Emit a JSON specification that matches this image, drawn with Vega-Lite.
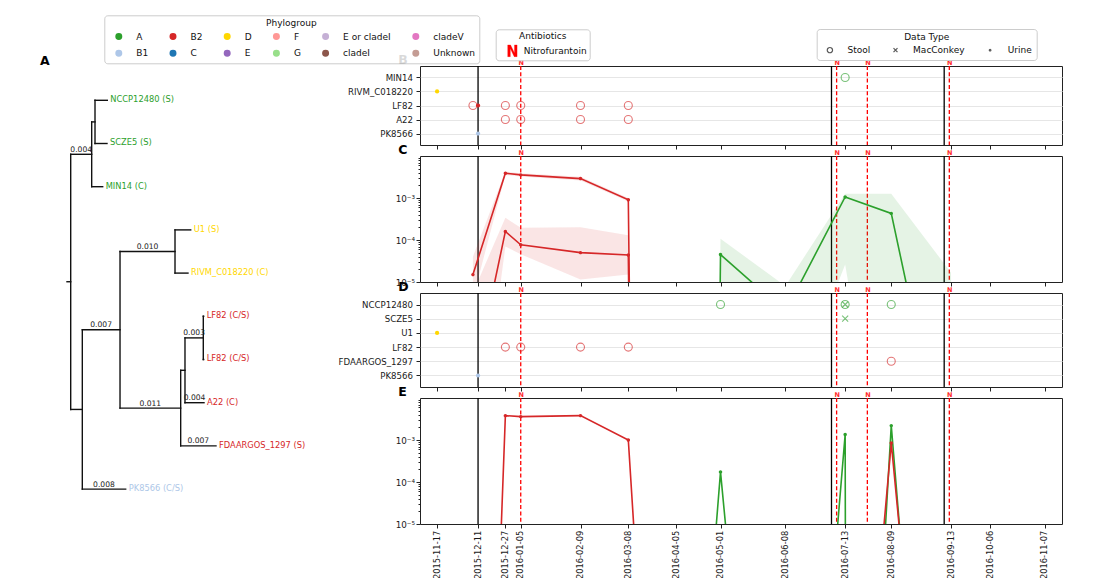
{
  "$schema": "https://vega.github.io/schema/vega-lite/v6.json",
  "padding": {"left": 40, "top": 14, "right": 4, "bottom": 0},
  "background": "white",
  "config": {
    "font": "DejaVu Sans",
    "view": {"stroke": "#222", "strokeWidth": 1},
    "axis": {"labelFont": "DejaVu Sans", "labelFontSize": 8.6, "labelColor": "#1a1a1a", "tickColor": "#222", "tickSize": 4, "labelPadding": 2.5, "domain": false, "grid": false},
    "legend": {"labelFont": "DejaVu Sans", "titleFont": "DejaVu Sans", "labelFontSize": 9, "titleFontSize": 9, "titleFontWeight": "normal", "titleAnchor": "middle", "titleColor": "#111", "labelColor": "#111", "strokeColor": "#cccccc", "fillColor": "rgba(255,255,255,0.85)", "cornerRadius": 3},
    "title": {"font": "DejaVu Sans", "fontSize": 12.5, "fontWeight": "bold", "anchor": "start", "frame": "group", "color": "#000"}
  },
  "datasets": {
    "black": [{"date": "2015-12-11"}, {"date": "2016-07-05"}, {"date": "2016-09-09"}],
    "nitro": [
      {"date": "2016-01-05", "drug": "Nitrofurantoin"},
      {"date": "2016-07-08", "drug": "Nitrofurantoin"},
      {"date": "2016-07-26", "drug": "Nitrofurantoin"},
      {"date": "2016-09-12", "drug": "Nitrofurantoin"}
    ],
    "samples": [
      {"panel": "B", "strain": "RIVM_C018220", "date": "2015-11-17", "type": "Urine", "group": "D"},
      {"panel": "B", "strain": "LF82", "date": "2015-12-08", "type": "Stool", "group": "B2"},
      {"panel": "B", "strain": "LF82", "date": "2015-12-11", "type": "Urine", "group": "B2"},
      {"panel": "B", "strain": "LF82", "date": "2015-12-27", "type": "Stool", "group": "B2"},
      {"panel": "B", "strain": "LF82", "date": "2016-01-05", "type": "Stool", "group": "B2"},
      {"panel": "B", "strain": "LF82", "date": "2016-02-09", "type": "Stool", "group": "B2"},
      {"panel": "B", "strain": "LF82", "date": "2016-03-08", "type": "Stool", "group": "B2"},
      {"panel": "B", "strain": "A22", "date": "2015-12-27", "type": "Stool", "group": "B2"},
      {"panel": "B", "strain": "A22", "date": "2016-01-05", "type": "Stool", "group": "B2"},
      {"panel": "B", "strain": "A22", "date": "2016-02-09", "type": "Stool", "group": "B2"},
      {"panel": "B", "strain": "A22", "date": "2016-03-08", "type": "Stool", "group": "B2"},
      {"panel": "B", "strain": "PK8566", "date": "2015-12-11", "type": "Urine", "group": "B1"},
      {"panel": "B", "strain": "MIN14", "date": "2016-07-13", "type": "Stool", "group": "A"},
      {"panel": "D", "strain": "NCCP12480", "date": "2016-05-01", "type": "Stool", "group": "A"},
      {"panel": "D", "strain": "NCCP12480", "date": "2016-07-13", "type": "Stool", "group": "A"},
      {"panel": "D", "strain": "NCCP12480", "date": "2016-07-13", "type": "MacConkey", "group": "A"},
      {"panel": "D", "strain": "NCCP12480", "date": "2016-08-09", "type": "Stool", "group": "A"},
      {"panel": "D", "strain": "SCZE5", "date": "2016-07-13", "type": "MacConkey", "group": "A"},
      {"panel": "D", "strain": "U1", "date": "2015-11-17", "type": "Urine", "group": "D"},
      {"panel": "D", "strain": "LF82", "date": "2015-12-27", "type": "Stool", "group": "B2"},
      {"panel": "D", "strain": "LF82", "date": "2016-01-05", "type": "Stool", "group": "B2"},
      {"panel": "D", "strain": "LF82", "date": "2016-02-09", "type": "Stool", "group": "B2"},
      {"panel": "D", "strain": "LF82", "date": "2016-03-08", "type": "Stool", "group": "B2"},
      {"panel": "D", "strain": "FDAARGOS_1297", "date": "2016-08-09", "type": "Stool", "group": "B2"},
      {"panel": "D", "strain": "PK8566", "date": "2015-12-11", "type": "Urine", "group": "B1"}
    ],
    "abund": [
      {"panel": "C", "series": "c1", "group": "B2", "date": "2015-12-08", "value": 1.5e-5, "lo": 4e-6, "hi": 4e-5},
      {"panel": "C", "series": "c1", "group": "B2", "date": "2015-12-27", "value": 3.9e-3, "lo": 3.55e-3, "hi": 4.25e-3},
      {"panel": "C", "series": "c1", "group": "B2", "date": "2016-01-05", "value": 3.55e-3, "lo": 3.25e-3, "hi": 3.9e-3},
      {"panel": "C", "series": "c1", "group": "B2", "date": "2016-02-09", "value": 2.9e-3, "lo": 2.6e-3, "hi": 3.2e-3},
      {"panel": "C", "series": "c1", "group": "B2", "date": "2016-03-08", "value": 9.1e-4, "lo": 8.3e-4, "hi": 1.0e-3},
      {"panel": "C", "series": "c1", "group": "B2", "date": "2016-04-05", "value": 1e-100, "lo": 1e-100, "hi": 1e-100},
      {"panel": "C", "series": "c2", "group": "B2", "date": "2015-12-08", "value": 3.5e-8, "lo": 1e-10, "hi": 5.5e-6},
      {"panel": "C", "series": "c2", "group": "B2", "date": "2015-12-27", "value": 1.6e-4, "lo": 7e-5, "hi": 3.4e-4},
      {"panel": "C", "series": "c2", "group": "B2", "date": "2016-01-05", "value": 7.7e-5, "lo": 4.6e-5, "hi": 1.95e-4},
      {"panel": "C", "series": "c2", "group": "B2", "date": "2016-02-09", "value": 5e-5, "lo": 1.15e-5, "hi": 2e-4},
      {"panel": "C", "series": "c2", "group": "B2", "date": "2016-03-08", "value": 4.4e-5, "lo": 1.5e-5, "hi": 1.3e-4},
      {"panel": "C", "series": "c2", "group": "B2", "date": "2016-04-05", "value": 1e-100, "lo": 1e-100, "hi": 1e-100},
      {"panel": "C", "series": "c3", "group": "A", "date": "2016-04-05", "value": 1e-100, "lo": 1e-100, "hi": 1e-100},
      {"panel": "C", "series": "c3", "group": "A", "date": "2016-05-01", "value": 4.5e-5, "lo": 1e-8, "hi": 1.07e-4},
      {"panel": "C", "series": "c3", "group": "A", "date": "2016-06-08", "value": 1.95e-6, "lo": 6e-9, "hi": 8e-6},
      {"panel": "C", "series": "c3", "group": "A", "date": "2016-07-13", "value": 1.06e-3, "lo": 2.6e-5, "hi": 1.27e-3},
      {"panel": "C", "series": "c3", "group": "A", "date": "2016-08-09", "value": 4.3e-4, "lo": 1e-11, "hi": 1.27e-3},
      {"panel": "C", "series": "c3", "group": "A", "date": "2016-09-13", "value": 1e-10, "lo": 1e-12, "hi": 1.66e-5},
      {"panel": "C", "series": "c3", "group": "A", "date": "2016-10-06", "value": 1e-100, "lo": 1e-100, "hi": 1e-100},
      {"panel": "E", "series": "e3", "group": "A", "date": "2016-04-05", "value": 1e-17},
      {"panel": "E", "series": "e3", "group": "A", "date": "2016-05-01", "value": 1.74e-4},
      {"panel": "E", "series": "e3", "group": "A", "date": "2016-06-08", "value": 1e-20},
      {"panel": "E", "series": "e3", "group": "A", "date": "2016-07-13", "value": 1.35e-3},
      {"panel": "E", "series": "e3", "group": "A", "date": "2016-07-14", "value": 1e-21},
      {"panel": "E", "series": "e3", "group": "A", "date": "2016-08-09", "value": 2.2e-3},
      {"panel": "E", "series": "e3", "group": "A", "date": "2016-09-13", "value": 1e-20},
      {"panel": "E", "series": "e1", "group": "B2", "date": "2015-12-11", "value": 1e-20},
      {"panel": "E", "series": "e1", "group": "B2", "date": "2015-12-27", "value": 3.8e-3},
      {"panel": "E", "series": "e1", "group": "B2", "date": "2016-01-05", "value": 3.6e-3},
      {"panel": "E", "series": "e1", "group": "B2", "date": "2016-02-09", "value": 3.8e-3},
      {"panel": "E", "series": "e1", "group": "B2", "date": "2016-03-08", "value": 1e-3},
      {"panel": "E", "series": "e1", "group": "B2", "date": "2016-04-05", "value": 1e-21},
      {"panel": "E", "series": "e2", "group": "B2", "date": "2016-07-14", "value": 1e-15},
      {"panel": "E", "series": "e2", "group": "B2", "date": "2016-08-09", "value": 8.5e-4},
      {"panel": "E", "series": "e2", "group": "B2", "date": "2016-09-13", "value": 1e-18}
    ],
    "tree_edges": [
      {"x": -0.00068, "x2": 0, "y": 4.2, "y2": 4.2},
      {"x": 0, "x2": 0, "y": 1.25, "y2": 7.156},
      {"x": 0, "x2": 0.00385, "y": 1.25, "y2": 1.25},
      {"x": 0.00385, "x2": 0.00385, "y": 0.5, "y2": 2},
      {"x": 0.00385, "x2": 0.00446, "y": 0.5, "y2": 0.5},
      {"x": 0.00446, "x2": 0.00446, "y": 0, "y2": 1},
      {"x": 0.00446, "x2": 0.00672, "y": 0, "y2": 0},
      {"x": 0.00446, "x2": 0.00666, "y": 1, "y2": 1},
      {"x": 0.00385, "x2": 0.00587, "y": 2, "y2": 2},
      {"x": 0, "x2": 0.00213, "y": 7.156, "y2": 7.156},
      {"x": 0.00213, "x2": 0.00213, "y": 5.3125, "y2": 9},
      {"x": 0.00213, "x2": 0.00905, "y": 5.3125, "y2": 5.3125},
      {"x": 0.00213, "x2": 0.01009, "y": 9, "y2": 9},
      {"x": 0.00905, "x2": 0.00905, "y": 3.5, "y2": 7.125},
      {"x": 0.00905, "x2": 0.01914, "y": 3.5, "y2": 3.5},
      {"x": 0.01914, "x2": 0.01914, "y": 3, "y2": 4},
      {"x": 0.01914, "x2": 0.02202, "y": 3, "y2": 3},
      {"x": 0.01914, "x2": 0.02152, "y": 4, "y2": 4},
      {"x": 0.00905, "x2": 0.02018, "y": 7.125, "y2": 7.125},
      {"x": 0.02018, "x2": 0.02018, "y": 6.25, "y2": 8},
      {"x": 0.02018, "x2": 0.02097, "y": 6.25, "y2": 6.25},
      {"x": 0.02018, "x2": 0.02666, "y": 8, "y2": 8},
      {"x": 0.02097, "x2": 0.02097, "y": 5.5, "y2": 7},
      {"x": 0.02097, "x2": 0.02433, "y": 5.5, "y2": 5.5},
      {"x": 0.02097, "x2": 0.02446, "y": 7, "y2": 7},
      {"x": 0.02433, "x2": 0.02433, "y": 5, "y2": 6},
      {"x": 0.02433, "x2": 0.0244, "y": 5, "y2": 5},
      {"x": 0.02433, "x2": 0.0244, "y": 6, "y2": 6}
    ],
    "tree_leaves": [
      {"x": 0.00672, "y": 0, "label": "NCCP12480 (S)", "group": "A"},
      {"x": 0.00666, "y": 1, "label": "SCZE5 (S)", "group": "A"},
      {"x": 0.00587, "y": 2, "label": "MIN14 (C)", "group": "A"},
      {"x": 0.02202, "y": 3, "label": "U1 (S)", "group": "D"},
      {"x": 0.02152, "y": 4, "label": "RIVM_C018220 (C)", "group": "D"},
      {"x": 0.0244, "y": 5, "label": "LF82 (C/S)", "group": "B2"},
      {"x": 0.0244, "y": 6, "label": "LF82 (C/S)", "group": "B2"},
      {"x": 0.02446, "y": 7, "label": "A22 (C)", "group": "B2"},
      {"x": 0.02666, "y": 8, "label": "FDAARGOS_1297 (S)", "group": "B2"},
      {"x": 0.01009, "y": 9, "label": "PK8566 (C/S)", "group": "B1"}
    ],
    "tree_blabels": [
      {"x": 0.00193, "y": 1.25, "label": "0.004"},
      {"x": 0.0141, "y": 3.5, "label": "0.010"},
      {"x": 0.00559, "y": 5.3125, "label": "0.007"},
      {"x": 0.0146, "y": 7.125, "label": "0.011"},
      {"x": 0.02265, "y": 5.5, "label": "0.003"},
      {"x": 0.02272, "y": 7, "label": "0.004"},
      {"x": 0.02342, "y": 8, "label": "0.007"},
      {"x": 0.00611, "y": 9, "label": "0.008"}
    ]
  },
  "spacing": 60,
  "bounds": "flush",
  "hconcat": [
    {
      "width": 320,
      "height": 458,
      "view": {"stroke": null},
      "title": {"text": "A", "dx": 0, "dy": 11.5, "offset": 0, "baseline": "alphabetic"},
      "layer": [
        {
          "data": {"name": "tree_edges"},
          "mark": {"type": "rule", "color": "#111", "strokeWidth": 1.4, "strokeCap": "square"},
          "encoding": {
            "x": {"field": "x", "type": "quantitative", "scale": {"domain": [-0.005633, 0.053083], "nice": false, "zero": false}, "axis": null},
            "x2": {"field": "x2"},
            "y": {"field": "y", "type": "quantitative", "scale": {"domain": [-0.794, 9.808], "reverse": true, "nice": false, "zero": false}, "axis": null},
            "y2": {"field": "y2"}
          }
        },
        {
          "data": {"name": "tree_leaves"},
          "transform": [{"filter": "datum.group == 'A'"}],
          "mark": {"type": "text", "align": "left", "baseline": "middle", "dx": 3, "fontSize": 8.3, "color": "#2ca02c"},
          "encoding": {
            "x": {"field": "x", "type": "quantitative", "scale": {"domain": [-0.005633, 0.053083], "nice": false, "zero": false}, "axis": null},
            "y": {"field": "y", "type": "quantitative", "scale": {"domain": [-0.794, 9.808], "reverse": true, "nice": false, "zero": false}, "axis": null},
            "text": {"field": "label"}
          }
        },
        {
          "data": {"name": "tree_leaves"},
          "transform": [{"filter": "datum.group == 'D'"}],
          "mark": {"type": "text", "align": "left", "baseline": "middle", "dx": 3, "fontSize": 8.3, "color": "#ffd700"},
          "encoding": {
            "x": {"field": "x", "type": "quantitative", "scale": {"domain": [-0.005633, 0.053083], "nice": false, "zero": false}, "axis": null},
            "y": {"field": "y", "type": "quantitative", "scale": {"domain": [-0.794, 9.808], "reverse": true, "nice": false, "zero": false}, "axis": null},
            "text": {"field": "label"}
          }
        },
        {
          "data": {"name": "tree_leaves"},
          "transform": [{"filter": "datum.group == 'B2'"}],
          "mark": {"type": "text", "align": "left", "baseline": "middle", "dx": 3, "fontSize": 8.3, "color": "#d62728"},
          "encoding": {
            "x": {"field": "x", "type": "quantitative", "scale": {"domain": [-0.005633, 0.053083], "nice": false, "zero": false}, "axis": null},
            "y": {"field": "y", "type": "quantitative", "scale": {"domain": [-0.794, 9.808], "reverse": true, "nice": false, "zero": false}, "axis": null},
            "text": {"field": "label"}
          }
        },
        {
          "data": {"name": "tree_leaves"},
          "transform": [{"filter": "datum.group == 'B1'"}],
          "mark": {"type": "text", "align": "left", "baseline": "middle", "dx": 3, "fontSize": 8.3, "color": "#aec7e8"},
          "encoding": {
            "x": {"field": "x", "type": "quantitative", "scale": {"domain": [-0.005633, 0.053083], "nice": false, "zero": false}, "axis": null},
            "y": {"field": "y", "type": "quantitative", "scale": {"domain": [-0.794, 9.808], "reverse": true, "nice": false, "zero": false}, "axis": null},
            "text": {"field": "label"}
          }
        },
        {
          "data": {"name": "tree_blabels"},
          "mark": {"type": "text", "align": "center", "baseline": "bottom", "dy": -0.5, "fontSize": 7.6, "color": "#222"},
          "encoding": {
            "x": {"field": "x", "type": "quantitative", "scale": {"domain": [-0.005633, 0.053083], "nice": false, "zero": false}, "axis": null},
            "y": {"field": "y", "type": "quantitative", "scale": {"domain": [-0.794, 9.808], "reverse": true, "nice": false, "zero": false}, "axis": null},
            "text": {"field": "label"}
          }
        }
      ]
    },
    {
      "spacing": 11,
      "bounds": "flush",
      "vconcat": [
        {
          "width": 642,
          "height": 79,
          "title": {"text": "B", "dx": -21.7, "dy": 9.5, "offset": -7.5, "baseline": "alphabetic"},
          "resolve": {"axis": {"x": "independent"}},
          "layer": [
            {
              "data": {"name": "black"},
              "mark": {"type": "rule", "color": "#000", "strokeWidth": 1.3},
              "encoding": {"x": {"field": "date", "type": "temporal", "scale": {"type": "utc", "domain": [{"year": 2015, "month": 11, "date": 7, "utc": true}, {"year": 2016, "month": 11, "date": 17, "utc": true}]}, "axis": null}}
            },
            {
              "data": {"name": "nitro"},
              "mark": {"type": "rule", "strokeWidth": 1.3, "strokeDash": [4, 2.3]},
              "encoding": {
                "x": {"field": "date", "type": "temporal", "scale": {"type": "utc", "domain": [{"year": 2015, "month": 11, "date": 7, "utc": true}, {"year": 2016, "month": 11, "date": 17, "utc": true}]}, "axis": null},
                "color": {"field": "drug", "type": "nominal", "scale": {"domain": ["Nitrofurantoin"], "range": ["#ff0000"]}, "legend": {"title": "Antibiotics", "orient": "none", "legendX": 455.7, "legendY": -36.7, "symbolType": "M-0.72,0.9L-0.72,-0.9L-0.28,-0.9L0.32,0.35L0.32,-0.9L0.72,-0.9L0.72,0.9L0.28,0.9L-0.32,-0.35L-0.32,0.9Z", "symbolSize": 169, "symbolFillColor": "#ff0000", "symbolStrokeWidth": 0.3, "symbolDash": [1, 0], "symbolOffset": 6.7, "labelOffset": 4.4, "padding": 3, "titlePadding": 2.5}}
              }
            },
            {
              "data": {"name": "samples"},
              "transform": [{"filter": "datum.panel == 'B' && datum.type == 'Urine'"}],
              "mark": {"type": "point", "filled": true, "size": 18, "opacity": 1, "strokeWidth": 0},
              "encoding": {
                "x": {"field": "date", "type": "temporal", "scale": {"type": "utc", "domain": [{"year": 2015, "month": 11, "date": 7, "utc": true}, {"year": 2016, "month": 11, "date": 17, "utc": true}]}, "axis": {"orient": "bottom", "title": null, "labels": false, "values": [{"year": 2015, "month": 11, "date": 17, "utc": true}, {"year": 2015, "month": 12, "date": 11, "utc": true}, {"year": 2015, "month": 12, "date": 27, "utc": true}, {"year": 2016, "month": 1, "date": 5, "utc": true}, {"year": 2016, "month": 2, "date": 9, "utc": true}, {"year": 2016, "month": 3, "date": 8, "utc": true}, {"year": 2016, "month": 4, "date": 5, "utc": true}, {"year": 2016, "month": 5, "date": 1, "utc": true}, {"year": 2016, "month": 6, "date": 8, "utc": true}, {"year": 2016, "month": 7, "date": 13, "utc": true}, {"year": 2016, "month": 8, "date": 9, "utc": true}, {"year": 2016, "month": 9, "date": 13, "utc": true}, {"year": 2016, "month": 10, "date": 6, "utc": true}, {"year": 2016, "month": 11, "date": 7, "utc": true}]}},
                "y": {"field": "strain", "type": "nominal", "scale": {"type": "point", "domain": ["MIN14", "RIVM_C018220", "LF82", "A22", "PK8566"], "padding": 0.82}, "axis": {"title": null, "grid": true, "gridColor": "#e6e6e6", "labelPadding": 3.5}},
                "fill": {"field": "group", "type": "nominal", "scale": {"domain": ["A", "B1", "B2", "C", "D", "E", "F", "G", "E or cladeI", "cladeI", "cladeV", "Unknown"], "range": ["#2ca02c", "#aec7e8", "#d62728", "#1f77b4", "#ffd700", "#9467bd", "#ff9896", "#98df8a", "#c5b0d5", "#8c564b", "#e377c2", "#c49c94"]}, "legend": {"title": "Phylogroup", "orient": "none", "legendX": 64.3, "legendY": -50.7, "columns": 6, "symbolType": "circle", "symbolSize": 30, "symbolOffset": 6, "labelOffset": 13, "columnPadding": 14.2, "rowPadding": 4, "padding": 4, "titlePadding": 3.4}}
              }
            },
            {
              "data": {"name": "samples"},
              "transform": [{"filter": "datum.panel == 'B' && datum.type != 'Urine'"}],
              "mark": {"type": "point", "filled": false, "size": 64, "strokeWidth": 1.1, "strokeOpacity": 0.9},
              "encoding": {
                "x": {"field": "date", "type": "temporal", "scale": {"type": "utc", "domain": [{"year": 2015, "month": 11, "date": 7, "utc": true}, {"year": 2016, "month": 11, "date": 17, "utc": true}]}, "axis": {"orient": "top", "title": null, "values": [{"year": 2016, "month": 1, "date": 5, "utc": true}, {"year": 2016, "month": 7, "date": 8, "utc": true}, {"year": 2016, "month": 7, "date": 26, "utc": true}, {"year": 2016, "month": 9, "date": 12, "utc": true}], "labelExpr": "'N'", "ticks": false, "labelColor": "#ff2a2a", "labelFontWeight": "bold", "labelFontSize": 6.5, "labelPadding": 1, "labelOverlap": false, "labelFlush": false, "labelBound": false}},
                "y": {"field": "strain", "type": "nominal", "scale": {"type": "point", "domain": ["MIN14", "RIVM_C018220", "LF82", "A22", "PK8566"], "padding": 0.82}, "axis": {"title": null, "grid": true, "gridColor": "#e6e6e6", "labelPadding": 3.5}},
                "stroke": {"field": "group", "type": "nominal", "scale": {"domain": ["A", "B1", "B2", "C", "D", "E", "F", "G", "E or cladeI", "cladeI", "cladeV", "Unknown"], "range": ["#2ca02c", "#aec7e8", "#d62728", "#1f77b4", "#ffd700", "#9467bd", "#ff9896", "#98df8a", "#c5b0d5", "#8c564b", "#e377c2", "#c49c94"]}, "legend": null},
                "shape": {"field": "type", "type": "nominal", "scale": {"domain": ["Stool", "MacConkey", "Urine"], "range": ["circle", "M-0.75,-0.75L0.75,0.75M-0.75,0.75L0.75,-0.75", "M0.3,0A0.3,0.3,0,1,1,-0.3,0A0.3,0.3,0,1,1,0.3,0Z"]}, "legend": {"title": "Data Type", "orient": "none", "legendX": 776.7, "legendY": -37, "columns": 3, "symbolSize": 28, "symbolStrokeColor": "#111", "symbolStrokeWidth": 1.2, "symbolFillColor": "transparent", "symbolOffset": 4.7, "labelOffset": 13.1, "columnPadding": 15.6, "padding": 4, "titlePadding": 3.4}}
              }
            }
          ]
        },
        {
          "width": 642,
          "height": 126,
          "title": {"text": "C", "dx": -21.7, "dy": 9.5, "offset": -7.5, "baseline": "alphabetic"},
          "resolve": {"axis": {"x": "independent"}},
          "layer": [
            {
              "data": {"name": "black"},
              "mark": {"type": "rule", "color": "#000", "strokeWidth": 1.3},
              "encoding": {"x": {"field": "date", "type": "temporal", "scale": {"type": "utc", "domain": [{"year": 2015, "month": 11, "date": 7, "utc": true}, {"year": 2016, "month": 11, "date": 17, "utc": true}]}, "axis": null}}
            },
            {
              "data": {"name": "nitro"},
              "mark": {"type": "rule", "strokeWidth": 1.3, "strokeDash": [4, 2.3]},
              "encoding": {
                "x": {"field": "date", "type": "temporal", "scale": {"type": "utc", "domain": [{"year": 2015, "month": 11, "date": 7, "utc": true}, {"year": 2016, "month": 11, "date": 17, "utc": true}]}, "axis": null},
                "color": {"field": "drug", "type": "nominal", "scale": {"domain": ["Nitrofurantoin"], "range": ["#ff0000"]}, "legend": {"title": "Antibiotics", "orient": "none", "legendX": 455.7, "legendY": -36.7, "symbolType": "M-0.72,0.9L-0.72,-0.9L-0.28,-0.9L0.32,0.35L0.32,-0.9L0.72,-0.9L0.72,0.9L0.28,0.9L-0.32,-0.35L-0.32,0.9Z", "symbolSize": 169, "symbolFillColor": "#ff0000", "symbolStrokeWidth": 0.3, "symbolDash": [1, 0], "symbolOffset": 6.7, "labelOffset": 4.4, "padding": 3, "titlePadding": 2.5}}
              }
            },
            {
              "data": {"name": "abund"},
              "transform": [{"filter": "datum.panel == 'C' && datum.group == 'B2'"}],
              "mark": {"type": "area", "clip": true, "color": "#d62728", "fillOpacity": 0.12},
              "encoding": {
                "x": {"field": "date", "type": "temporal", "scale": {"type": "utc", "domain": [{"year": 2015, "month": 11, "date": 7, "utc": true}, {"year": 2016, "month": 11, "date": 17, "utc": true}]}, "axis": {"orient": "bottom", "title": null, "labels": false, "values": [{"year": 2015, "month": 11, "date": 17, "utc": true}, {"year": 2015, "month": 12, "date": 11, "utc": true}, {"year": 2015, "month": 12, "date": 27, "utc": true}, {"year": 2016, "month": 1, "date": 5, "utc": true}, {"year": 2016, "month": 2, "date": 9, "utc": true}, {"year": 2016, "month": 3, "date": 8, "utc": true}, {"year": 2016, "month": 4, "date": 5, "utc": true}, {"year": 2016, "month": 5, "date": 1, "utc": true}, {"year": 2016, "month": 6, "date": 8, "utc": true}, {"year": 2016, "month": 7, "date": 13, "utc": true}, {"year": 2016, "month": 8, "date": 9, "utc": true}, {"year": 2016, "month": 9, "date": 13, "utc": true}, {"year": 2016, "month": 10, "date": 6, "utc": true}, {"year": 2016, "month": 11, "date": 7, "utc": true}]}},
                "y": {"field": "lo", "type": "quantitative", "scale": {"type": "log", "domain": [1e-5, 1e-2], "nice": false}, "axis": {"title": null, "values": [1e-5, 2e-5, 3e-5, 4e-5, 5e-5, 6e-5, 7e-5, 8e-5, 9e-5, 1e-4, 2e-4, 3e-4, 4e-4, 5e-4, 6e-4, 7e-4, 8e-4, 9e-4, 1e-3, 2e-3, 3e-3, 4e-3, 5e-3, 6e-3, 7e-3, 8e-3, 9e-3], "labelExpr": "datum.value < 1.1e-5 ? '10⁻⁵' : (datum.value > 0.99e-4 && datum.value < 1.01e-4) ? '10⁻⁴' : (datum.value > 0.99e-3 && datum.value < 1.01e-3) ? '10⁻³' : ''", "tickSize": {"condition": {"test": "datum.value < 1.1e-5 || (datum.value > 0.99e-4 && datum.value < 1.01e-4) || (datum.value > 0.99e-3 && datum.value < 1.01e-3)", "value": 4}, "value": 2}, "labelOverlap": false, "labelPadding": 1.5, "labelFontSize": 8.8}},
                "y2": {"field": "hi"},
                "detail": {"field": "series", "type": "nominal"}
              }
            },
            {
              "data": {"name": "abund"},
              "transform": [{"filter": "datum.panel == 'C' && datum.group == 'A'"}],
              "mark": {"type": "area", "clip": true, "color": "#2ca02c", "fillOpacity": 0.12},
              "encoding": {
                "x": {"field": "date", "type": "temporal", "scale": {"type": "utc", "domain": [{"year": 2015, "month": 11, "date": 7, "utc": true}, {"year": 2016, "month": 11, "date": 17, "utc": true}]}, "axis": null},
                "y": {"field": "lo", "type": "quantitative", "scale": {"type": "log", "domain": [1e-5, 1e-2], "nice": false}, "axis": {"title": null, "values": [1e-5, 2e-5, 3e-5, 4e-5, 5e-5, 6e-5, 7e-5, 8e-5, 9e-5, 1e-4, 2e-4, 3e-4, 4e-4, 5e-4, 6e-4, 7e-4, 8e-4, 9e-4, 1e-3, 2e-3, 3e-3, 4e-3, 5e-3, 6e-3, 7e-3, 8e-3, 9e-3], "labelExpr": "datum.value < 1.1e-5 ? '10⁻⁵' : (datum.value > 0.99e-4 && datum.value < 1.01e-4) ? '10⁻⁴' : (datum.value > 0.99e-3 && datum.value < 1.01e-3) ? '10⁻³' : ''", "tickSize": {"condition": {"test": "datum.value < 1.1e-5 || (datum.value > 0.99e-4 && datum.value < 1.01e-4) || (datum.value > 0.99e-3 && datum.value < 1.01e-3)", "value": 4}, "value": 2}, "labelOverlap": false, "labelPadding": 1.5, "labelFontSize": 8.8}},
                "y2": {"field": "hi"},
                "detail": {"field": "series", "type": "nominal"}
              }
            },
            {
              "data": {"name": "abund"},
              "transform": [{"filter": "datum.panel == 'C'"}],
              "mark": {"type": "line", "clip": true, "strokeWidth": 1.6},
              "encoding": {
                "x": {"field": "date", "type": "temporal", "scale": {"type": "utc", "domain": [{"year": 2015, "month": 11, "date": 7, "utc": true}, {"year": 2016, "month": 11, "date": 17, "utc": true}]}, "axis": {"orient": "top", "title": null, "values": [{"year": 2016, "month": 1, "date": 5, "utc": true}, {"year": 2016, "month": 7, "date": 8, "utc": true}, {"year": 2016, "month": 7, "date": 26, "utc": true}, {"year": 2016, "month": 9, "date": 12, "utc": true}], "labelExpr": "'N'", "ticks": false, "labelColor": "#ff2a2a", "labelFontWeight": "bold", "labelFontSize": 6.5, "labelPadding": 1, "labelOverlap": false, "labelFlush": false, "labelBound": false}},
                "y": {"field": "value", "type": "quantitative", "scale": {"type": "log", "domain": [1e-5, 1e-2], "nice": false}, "axis": {"title": null, "values": [1e-5, 2e-5, 3e-5, 4e-5, 5e-5, 6e-5, 7e-5, 8e-5, 9e-5, 1e-4, 2e-4, 3e-4, 4e-4, 5e-4, 6e-4, 7e-4, 8e-4, 9e-4, 1e-3, 2e-3, 3e-3, 4e-3, 5e-3, 6e-3, 7e-3, 8e-3, 9e-3], "labelExpr": "datum.value < 1.1e-5 ? '10⁻⁵' : (datum.value > 0.99e-4 && datum.value < 1.01e-4) ? '10⁻⁴' : (datum.value > 0.99e-3 && datum.value < 1.01e-3) ? '10⁻³' : ''", "tickSize": {"condition": {"test": "datum.value < 1.1e-5 || (datum.value > 0.99e-4 && datum.value < 1.01e-4) || (datum.value > 0.99e-3 && datum.value < 1.01e-3)", "value": 4}, "value": 2}, "labelOverlap": false, "labelPadding": 1.5, "labelFontSize": 8.8}},
                "stroke": {"field": "group", "type": "nominal", "scale": {"domain": ["A", "B1", "B2", "C", "D", "E", "F", "G", "E or cladeI", "cladeI", "cladeV", "Unknown"], "range": ["#2ca02c", "#aec7e8", "#d62728", "#1f77b4", "#ffd700", "#9467bd", "#ff9896", "#98df8a", "#c5b0d5", "#8c564b", "#e377c2", "#c49c94"]}, "legend": null},
                "detail": {"field": "series", "type": "nominal"}
              }
            },
            {
              "data": {"name": "abund"},
              "transform": [{"filter": "datum.panel == 'C' && datum.value > 1e-9"}],
              "mark": {"type": "point", "filled": false, "clip": true, "shape": "M0.3,0A0.3,0.3,0,1,1,-0.3,0A0.3,0.3,0,1,1,0.3,0Z", "size": 30, "strokeWidth": 1.8, "opacity": 1},
              "encoding": {
                "x": {"field": "date", "type": "temporal", "scale": {"type": "utc", "domain": [{"year": 2015, "month": 11, "date": 7, "utc": true}, {"year": 2016, "month": 11, "date": 17, "utc": true}]}, "axis": null},
                "y": {"field": "value", "type": "quantitative", "scale": {"type": "log", "domain": [1e-5, 1e-2], "nice": false}, "axis": {"title": null, "values": [1e-5, 2e-5, 3e-5, 4e-5, 5e-5, 6e-5, 7e-5, 8e-5, 9e-5, 1e-4, 2e-4, 3e-4, 4e-4, 5e-4, 6e-4, 7e-4, 8e-4, 9e-4, 1e-3, 2e-3, 3e-3, 4e-3, 5e-3, 6e-3, 7e-3, 8e-3, 9e-3], "labelExpr": "datum.value < 1.1e-5 ? '10⁻⁵' : (datum.value > 0.99e-4 && datum.value < 1.01e-4) ? '10⁻⁴' : (datum.value > 0.99e-3 && datum.value < 1.01e-3) ? '10⁻³' : ''", "tickSize": {"condition": {"test": "datum.value < 1.1e-5 || (datum.value > 0.99e-4 && datum.value < 1.01e-4) || (datum.value > 0.99e-3 && datum.value < 1.01e-3)", "value": 4}, "value": 2}, "labelOverlap": false, "labelPadding": 1.5, "labelFontSize": 8.8}},
                "stroke": {"field": "group", "type": "nominal", "scale": {"domain": ["A", "B1", "B2", "C", "D", "E", "F", "G", "E or cladeI", "cladeI", "cladeV", "Unknown"], "range": ["#2ca02c", "#aec7e8", "#d62728", "#1f77b4", "#ffd700", "#9467bd", "#ff9896", "#98df8a", "#c5b0d5", "#8c564b", "#e377c2", "#c49c94"]}, "legend": null}
              }
            }
          ]
        },
        {
          "width": 642,
          "height": 94,
          "title": {"text": "D", "dx": -21.7, "dy": 9.5, "offset": -7.5, "baseline": "alphabetic"},
          "resolve": {"axis": {"x": "independent"}},
          "layer": [
            {
              "data": {"name": "black"},
              "mark": {"type": "rule", "color": "#000", "strokeWidth": 1.3},
              "encoding": {"x": {"field": "date", "type": "temporal", "scale": {"type": "utc", "domain": [{"year": 2015, "month": 11, "date": 7, "utc": true}, {"year": 2016, "month": 11, "date": 17, "utc": true}]}, "axis": null}}
            },
            {
              "data": {"name": "nitro"},
              "mark": {"type": "rule", "strokeWidth": 1.3, "strokeDash": [4, 2.3]},
              "encoding": {
                "x": {"field": "date", "type": "temporal", "scale": {"type": "utc", "domain": [{"year": 2015, "month": 11, "date": 7, "utc": true}, {"year": 2016, "month": 11, "date": 17, "utc": true}]}, "axis": null},
                "color": {"field": "drug", "type": "nominal", "scale": {"domain": ["Nitrofurantoin"], "range": ["#ff0000"]}, "legend": {"title": "Antibiotics", "orient": "none", "legendX": 455.7, "legendY": -36.7, "symbolType": "M-0.72,0.9L-0.72,-0.9L-0.28,-0.9L0.32,0.35L0.32,-0.9L0.72,-0.9L0.72,0.9L0.28,0.9L-0.32,-0.35L-0.32,0.9Z", "symbolSize": 169, "symbolFillColor": "#ff0000", "symbolStrokeWidth": 0.3, "symbolDash": [1, 0], "symbolOffset": 6.7, "labelOffset": 4.4, "padding": 3, "titlePadding": 2.5}}
              }
            },
            {
              "data": {"name": "samples"},
              "transform": [{"filter": "datum.panel == 'D' && datum.type == 'Urine'"}],
              "mark": {"type": "point", "filled": true, "size": 18, "opacity": 1, "strokeWidth": 0},
              "encoding": {
                "x": {"field": "date", "type": "temporal", "scale": {"type": "utc", "domain": [{"year": 2015, "month": 11, "date": 7, "utc": true}, {"year": 2016, "month": 11, "date": 17, "utc": true}]}, "axis": {"orient": "bottom", "title": null, "labels": false, "values": [{"year": 2015, "month": 11, "date": 17, "utc": true}, {"year": 2015, "month": 12, "date": 11, "utc": true}, {"year": 2015, "month": 12, "date": 27, "utc": true}, {"year": 2016, "month": 1, "date": 5, "utc": true}, {"year": 2016, "month": 2, "date": 9, "utc": true}, {"year": 2016, "month": 3, "date": 8, "utc": true}, {"year": 2016, "month": 4, "date": 5, "utc": true}, {"year": 2016, "month": 5, "date": 1, "utc": true}, {"year": 2016, "month": 6, "date": 8, "utc": true}, {"year": 2016, "month": 7, "date": 13, "utc": true}, {"year": 2016, "month": 8, "date": 9, "utc": true}, {"year": 2016, "month": 9, "date": 13, "utc": true}, {"year": 2016, "month": 10, "date": 6, "utc": true}, {"year": 2016, "month": 11, "date": 7, "utc": true}]}},
                "y": {"field": "strain", "type": "nominal", "scale": {"type": "point", "domain": ["NCCP12480", "SCZE5", "U1", "LF82", "FDAARGOS_1297", "PK8566"], "padding": 0.81}, "axis": {"title": null, "grid": true, "gridColor": "#e6e6e6", "labelPadding": 3.5}},
                "fill": {"field": "group", "type": "nominal", "scale": {"domain": ["A", "B1", "B2", "C", "D", "E", "F", "G", "E or cladeI", "cladeI", "cladeV", "Unknown"], "range": ["#2ca02c", "#aec7e8", "#d62728", "#1f77b4", "#ffd700", "#9467bd", "#ff9896", "#98df8a", "#c5b0d5", "#8c564b", "#e377c2", "#c49c94"]}, "legend": {"title": "Phylogroup", "orient": "none", "legendX": 64.3, "legendY": -50.7, "columns": 6, "symbolType": "circle", "symbolSize": 30, "symbolOffset": 6, "labelOffset": 13, "columnPadding": 14.2, "rowPadding": 4, "padding": 4, "titlePadding": 3.4}}
              }
            },
            {
              "data": {"name": "samples"},
              "transform": [{"filter": "datum.panel == 'D' && datum.type != 'Urine'"}],
              "mark": {"type": "point", "filled": false, "size": 64, "strokeWidth": 1.1, "strokeOpacity": 0.9},
              "encoding": {
                "x": {"field": "date", "type": "temporal", "scale": {"type": "utc", "domain": [{"year": 2015, "month": 11, "date": 7, "utc": true}, {"year": 2016, "month": 11, "date": 17, "utc": true}]}, "axis": {"orient": "top", "title": null, "values": [{"year": 2016, "month": 1, "date": 5, "utc": true}, {"year": 2016, "month": 7, "date": 8, "utc": true}, {"year": 2016, "month": 7, "date": 26, "utc": true}, {"year": 2016, "month": 9, "date": 12, "utc": true}], "labelExpr": "'N'", "ticks": false, "labelColor": "#ff2a2a", "labelFontWeight": "bold", "labelFontSize": 6.5, "labelPadding": 1, "labelOverlap": false, "labelFlush": false, "labelBound": false}},
                "y": {"field": "strain", "type": "nominal", "scale": {"type": "point", "domain": ["NCCP12480", "SCZE5", "U1", "LF82", "FDAARGOS_1297", "PK8566"], "padding": 0.81}, "axis": {"title": null, "grid": true, "gridColor": "#e6e6e6", "labelPadding": 3.5}},
                "stroke": {"field": "group", "type": "nominal", "scale": {"domain": ["A", "B1", "B2", "C", "D", "E", "F", "G", "E or cladeI", "cladeI", "cladeV", "Unknown"], "range": ["#2ca02c", "#aec7e8", "#d62728", "#1f77b4", "#ffd700", "#9467bd", "#ff9896", "#98df8a", "#c5b0d5", "#8c564b", "#e377c2", "#c49c94"]}, "legend": null},
                "shape": {"field": "type", "type": "nominal", "scale": {"domain": ["Stool", "MacConkey", "Urine"], "range": ["circle", "M-0.75,-0.75L0.75,0.75M-0.75,0.75L0.75,-0.75", "M0.3,0A0.3,0.3,0,1,1,-0.3,0A0.3,0.3,0,1,1,0.3,0Z"]}, "legend": {"title": "Data Type", "orient": "none", "legendX": 776.7, "legendY": -37, "columns": 3, "symbolSize": 28, "symbolStrokeColor": "#111", "symbolStrokeWidth": 1.2, "symbolFillColor": "transparent", "symbolOffset": 4.7, "labelOffset": 13.1, "columnPadding": 15.6, "padding": 4, "titlePadding": 3.4}}
              }
            }
          ]
        },
        {
          "width": 642,
          "height": 126,
          "title": {"text": "E", "dx": -21.7, "dy": 9.5, "offset": -7.5, "baseline": "alphabetic"},
          "resolve": {"axis": {"x": "independent"}},
          "layer": [
            {
              "data": {"name": "black"},
              "mark": {"type": "rule", "color": "#000", "strokeWidth": 1.3},
              "encoding": {"x": {"field": "date", "type": "temporal", "scale": {"type": "utc", "domain": [{"year": 2015, "month": 11, "date": 7, "utc": true}, {"year": 2016, "month": 11, "date": 17, "utc": true}]}, "axis": null}}
            },
            {
              "data": {"name": "nitro"},
              "mark": {"type": "rule", "strokeWidth": 1.3, "strokeDash": [4, 2.3]},
              "encoding": {
                "x": {"field": "date", "type": "temporal", "scale": {"type": "utc", "domain": [{"year": 2015, "month": 11, "date": 7, "utc": true}, {"year": 2016, "month": 11, "date": 17, "utc": true}]}, "axis": null},
                "color": {"field": "drug", "type": "nominal", "scale": {"domain": ["Nitrofurantoin"], "range": ["#ff0000"]}, "legend": {"title": "Antibiotics", "orient": "none", "legendX": 455.7, "legendY": -36.7, "symbolType": "M-0.72,0.9L-0.72,-0.9L-0.28,-0.9L0.32,0.35L0.32,-0.9L0.72,-0.9L0.72,0.9L0.28,0.9L-0.32,-0.35L-0.32,0.9Z", "symbolSize": 169, "symbolFillColor": "#ff0000", "symbolStrokeWidth": 0.3, "symbolDash": [1, 0], "symbolOffset": 6.7, "labelOffset": 4.4, "padding": 3, "titlePadding": 2.5}}
              }
            },
            {
              "data": {"name": "abund"},
              "transform": [{"filter": "datum.panel == 'E'"}],
              "mark": {"type": "line", "clip": true, "strokeWidth": 1.6},
              "encoding": {
                "x": {"field": "date", "type": "temporal", "scale": {"type": "utc", "domain": [{"year": 2015, "month": 11, "date": 7, "utc": true}, {"year": 2016, "month": 11, "date": 17, "utc": true}]}, "axis": {"orient": "bottom", "title": null, "format": "%Y-%m-%d", "labelAngle": 270, "labelFlush": false, "labelOverlap": false, "labelBound": false, "labelFontSize": 8.3, "labelPadding": 2.3, "values": [{"year": 2015, "month": 11, "date": 17, "utc": true}, {"year": 2015, "month": 12, "date": 11, "utc": true}, {"year": 2015, "month": 12, "date": 27, "utc": true}, {"year": 2016, "month": 1, "date": 5, "utc": true}, {"year": 2016, "month": 2, "date": 9, "utc": true}, {"year": 2016, "month": 3, "date": 8, "utc": true}, {"year": 2016, "month": 4, "date": 5, "utc": true}, {"year": 2016, "month": 5, "date": 1, "utc": true}, {"year": 2016, "month": 6, "date": 8, "utc": true}, {"year": 2016, "month": 7, "date": 13, "utc": true}, {"year": 2016, "month": 8, "date": 9, "utc": true}, {"year": 2016, "month": 9, "date": 13, "utc": true}, {"year": 2016, "month": 10, "date": 6, "utc": true}, {"year": 2016, "month": 11, "date": 7, "utc": true}]}},
                "y": {"field": "value", "type": "quantitative", "scale": {"type": "log", "domain": [1e-5, 1e-2], "nice": false}, "axis": {"title": null, "values": [1e-5, 2e-5, 3e-5, 4e-5, 5e-5, 6e-5, 7e-5, 8e-5, 9e-5, 1e-4, 2e-4, 3e-4, 4e-4, 5e-4, 6e-4, 7e-4, 8e-4, 9e-4, 1e-3, 2e-3, 3e-3, 4e-3, 5e-3, 6e-3, 7e-3, 8e-3, 9e-3], "labelExpr": "datum.value < 1.1e-5 ? '10⁻⁵' : (datum.value > 0.99e-4 && datum.value < 1.01e-4) ? '10⁻⁴' : (datum.value > 0.99e-3 && datum.value < 1.01e-3) ? '10⁻³' : ''", "tickSize": {"condition": {"test": "datum.value < 1.1e-5 || (datum.value > 0.99e-4 && datum.value < 1.01e-4) || (datum.value > 0.99e-3 && datum.value < 1.01e-3)", "value": 4}, "value": 2}, "labelOverlap": false, "labelPadding": 1.5, "labelFontSize": 8.8}},
                "stroke": {"field": "group", "type": "nominal", "scale": {"domain": ["A", "B1", "B2", "C", "D", "E", "F", "G", "E or cladeI", "cladeI", "cladeV", "Unknown"], "range": ["#2ca02c", "#aec7e8", "#d62728", "#1f77b4", "#ffd700", "#9467bd", "#ff9896", "#98df8a", "#c5b0d5", "#8c564b", "#e377c2", "#c49c94"]}, "legend": null},
                "detail": {"field": "series", "type": "nominal"}
              }
            },
            {
              "data": {"name": "abund"},
              "transform": [{"filter": "datum.panel == 'E' && datum.value > 1e-9"}],
              "mark": {"type": "point", "filled": false, "clip": true, "shape": "M0.3,0A0.3,0.3,0,1,1,-0.3,0A0.3,0.3,0,1,1,0.3,0Z", "size": 30, "strokeWidth": 1.8, "opacity": 1},
              "encoding": {
                "x": {"field": "date", "type": "temporal", "scale": {"type": "utc", "domain": [{"year": 2015, "month": 11, "date": 7, "utc": true}, {"year": 2016, "month": 11, "date": 17, "utc": true}]}, "axis": {"orient": "top", "title": null, "values": [{"year": 2016, "month": 1, "date": 5, "utc": true}, {"year": 2016, "month": 7, "date": 8, "utc": true}, {"year": 2016, "month": 7, "date": 26, "utc": true}, {"year": 2016, "month": 9, "date": 12, "utc": true}], "labelExpr": "'N'", "ticks": false, "labelColor": "#ff2a2a", "labelFontWeight": "bold", "labelFontSize": 6.5, "labelPadding": 1, "labelOverlap": false, "labelFlush": false, "labelBound": false}},
                "y": {"field": "value", "type": "quantitative", "scale": {"type": "log", "domain": [1e-5, 1e-2], "nice": false}, "axis": {"title": null, "values": [1e-5, 2e-5, 3e-5, 4e-5, 5e-5, 6e-5, 7e-5, 8e-5, 9e-5, 1e-4, 2e-4, 3e-4, 4e-4, 5e-4, 6e-4, 7e-4, 8e-4, 9e-4, 1e-3, 2e-3, 3e-3, 4e-3, 5e-3, 6e-3, 7e-3, 8e-3, 9e-3], "labelExpr": "datum.value < 1.1e-5 ? '10⁻⁵' : (datum.value > 0.99e-4 && datum.value < 1.01e-4) ? '10⁻⁴' : (datum.value > 0.99e-3 && datum.value < 1.01e-3) ? '10⁻³' : ''", "tickSize": {"condition": {"test": "datum.value < 1.1e-5 || (datum.value > 0.99e-4 && datum.value < 1.01e-4) || (datum.value > 0.99e-3 && datum.value < 1.01e-3)", "value": 4}, "value": 2}, "labelOverlap": false, "labelPadding": 1.5, "labelFontSize": 8.8}},
                "stroke": {"field": "group", "type": "nominal", "scale": {"domain": ["A", "B1", "B2", "C", "D", "E", "F", "G", "E or cladeI", "cladeI", "cladeV", "Unknown"], "range": ["#2ca02c", "#aec7e8", "#d62728", "#1f77b4", "#ffd700", "#9467bd", "#ff9896", "#98df8a", "#c5b0d5", "#8c564b", "#e377c2", "#c49c94"]}, "legend": null}
              }
            }
          ]
        }
      ]
    }
  ]
}
